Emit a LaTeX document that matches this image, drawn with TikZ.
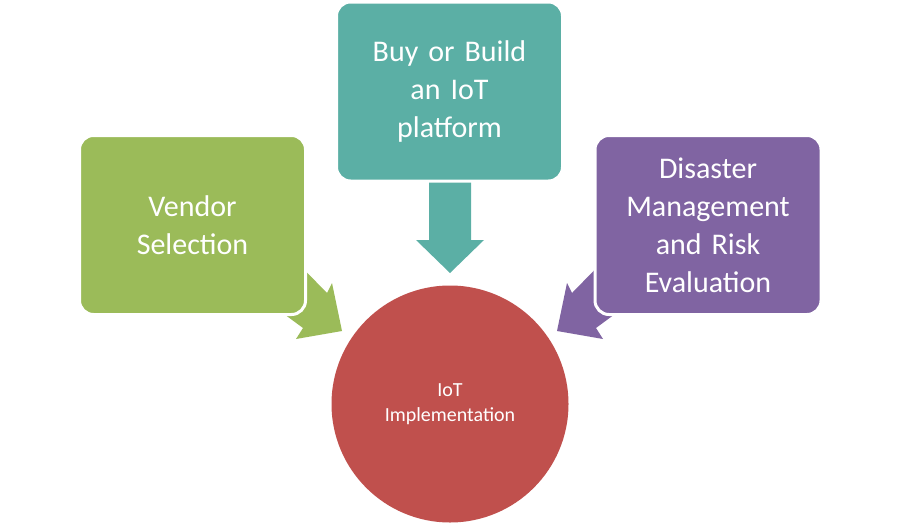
\documentclass[tikz,border=0pt]{standalone}
\usepackage{fontspec}
\setmainfont{Carlito}
\definecolor{cgreen}{HTML}{9BBB59}
\definecolor{cteal}{HTML}{5BAFA5}
\definecolor{cpurple}{HTML}{8064A2}
\definecolor{cred}{HTML}{C0504D}
\begin{document}
\begin{tikzpicture}[x=1pt,y=-1pt,
  box/.style={rounded corners=14pt,draw=white,line width=3pt,minimum width=226pt,minimum height=179pt,text width=200pt,align=center,text=white,font=\fontsize{30}{38}\selectfont}]
\useasboundingbox (0,0) rectangle (899,525);
% arrows
\fill[cgreen] (285,250) -- (327,293) -- (332,283) -- (342,331) -- (296,339) -- (303,328) -- (265,300) -- cycle;
\fill[cpurple] (614,250) -- (572,293) -- (567,283) -- (557,331) -- (603,339) -- (596,328) -- (634,300) -- cycle;
\fill[cteal] (429,170) -- (471,170) -- (471,240) -- (484,240) -- (450,273) -- (416,240) -- (429,240) -- cycle;
% boxes
\node[box,fill=cgreen] (v) at (192.5,225) {Vendor\\Selection};
\node[box,fill=cteal] (b) at (449.5,91.5) {Buy or Build\\an IoT\\platform};
\node[box,fill=cpurple] (d) at (708,225) {Disaster\\Management\\and Risk\\Evaluation};
\node[circle,fill=cred,minimum size=237pt,text=white,align=center,font=\fontsize{20}{25}\selectfont] (c) at (450,404) {IoT\\Implementation};
\end{tikzpicture}
\end{document}
